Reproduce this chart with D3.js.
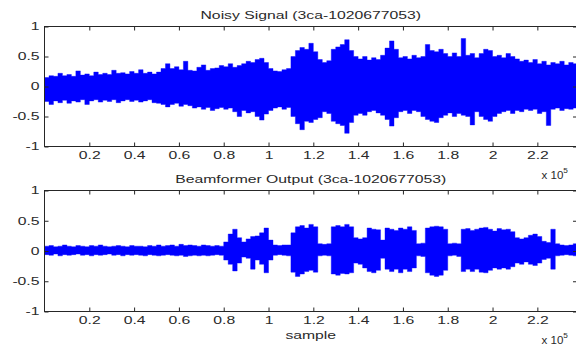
<!DOCTYPE html>
<html lang="en">
<head>
<meta charset="utf-8">
<title>Noisy Signal / Beamformer Output</title>
<script src="https://d3js.org/d3.v7.min.js"></script>
<style>
  body { margin: 0; background: #fff; }
  svg { display: block; font-family: "Liberation Sans", Arial, Helvetica, sans-serif; }
</style>
</head>
<body>
<script>
var w = 576, h = 347;

// signal length and envelope bin size (samples)
var nSamples = 237700;
var binSize = 2000;

// axis ticks
var xTicks = [20000, 40000, 60000, 80000, 100000, 120000, 140000, 160000, 180000, 200000, 220000];
var xTickLabels = ["0.2", "0.4", "0.6", "0.8", "1", "1.2", "1.4", "1.6", "1.8", "2", "2.2"];
var yTicks = [-1, -0.5, 0, 0.5, 1];
var yTickLabels = ["-1", "-0.5", "0", "0.5", "1"];

var titles = ["Noisy Signal (3ca-1020677053)", "Beamformer Output (3ca-1020677053)"];
var xLabel = "sample";

// envelope (max / min per bin)
var noisyUpper = [0.15, 0.18, 0.17, 0.22, 0.18, 0.2, 0.17, 0.26,
  0.19, 0.21, 0.18, 0.24, 0.2, 0.22, 0.2,
  0.27, 0.22, 0.23, 0.21, 0.25, 0.22, 0.28, 0.22, 0.24, 0.21, 0.24,
  0.3, 0.38, 0.3, 0.33, 0.28, 0.42,
  0.27, 0.26, 0.32, 0.36, 0.27, 0.3, 0.31, 0.35, 0.33, 0.38, 0.32, 0.35, 0.38, 0.42, 0.4, 0.45, 0.47, 0.4,
  0.3, 0.26, 0.25, 0.28, 0.3, 0.5, 0.6, 0.65, 0.62, 0.72,
  0.58, 0.45, 0.4, 0.43, 0.62, 0.66, 0.7, 0.78, 0.6, 0.5,
  0.46, 0.5, 0.44, 0.48, 0.45, 0.52, 0.64, 0.76, 0.62, 0.48,
  0.5, 0.46, 0.52, 0.48, 0.5, 0.7, 0.6, 0.58, 0.62, 0.55,
  0.5, 0.56, 0.5, 0.8, 0.52, 0.55, 0.48, 0.55, 0.62, 0.6,
  0.5, 0.52, 0.48, 0.55, 0.5, 0.46, 0.42, 0.44, 0.4, 0.45,
  0.38, 0.42, 0.36, 0.4, 0.38, 0.42, 0.36, 0.4, 0.38];
var noisyLower = [-0.25, -0.3, -0.24, -0.27, -0.23, -0.28, -0.24, -0.26,
  -0.22, -0.3, -0.24, -0.22, -0.26, -0.23, -0.25,
  -0.22, -0.27, -0.24, -0.22, -0.25, -0.23, -0.26, -0.24, -0.22, -0.27, -0.28,
  -0.3, -0.34, -0.3, -0.28, -0.33, -0.3,
  -0.32, -0.36, -0.34, -0.38, -0.35, -0.4, -0.37, -0.35, -0.38, -0.36, -0.42, -0.5, -0.4, -0.44, -0.42, -0.5, -0.56, -0.46,
  -0.4, -0.36, -0.34, -0.38, -0.35, -0.5, -0.62, -0.72, -0.58, -0.6,
  -0.55, -0.52, -0.42, -0.45, -0.58, -0.62, -0.65, -0.78, -0.6, -0.48,
  -0.45, -0.48, -0.42, -0.4, -0.44, -0.48, -0.55, -0.66, -0.52, -0.42,
  -0.4, -0.45, -0.4, -0.42, -0.5, -0.55, -0.58, -0.6, -0.52, -0.48,
  -0.44, -0.5, -0.45, -0.48, -0.5, -0.64, -0.42, -0.5, -0.55, -0.58,
  -0.5, -0.45, -0.42, -0.4, -0.45, -0.4, -0.42, -0.38, -0.4, -0.38,
  -0.45, -0.42, -0.65, -0.38, -0.36, -0.4, -0.37, -0.38, -0.36];

var beamUpper = [0.08, 0.09, 0.07, 0.08, 0.1, 0.08, 0.07, 0.09, 0.08, 0.07,
  0.09, 0.08, 0.1, 0.08, 0.07, 0.08, 0.09, 0.08, 0.07, 0.09,
  0.08, 0.08, 0.07, 0.09, 0.08, 0.1, 0.08, 0.09, 0.1, 0.08,
  0.11, 0.09, 0.1, 0.09, 0.08, 0.1, 0.09, 0.08, 0.09, 0.08,
  0.15, 0.28, 0.36, 0.22, 0.15, 0.2, 0.24, 0.25, 0.3, 0.38,
  0.18, 0.1, 0.09, 0.1, 0.1, 0.3, 0.4, 0.42, 0.38, 0.44,
  0.4, 0.12, 0.11, 0.12, 0.4, 0.42, 0.4, 0.44, 0.4, 0.22,
  0.2, 0.22, 0.38, 0.36, 0.35, 0.18, 0.38, 0.36, 0.34, 0.38,
  0.36, 0.4, 0.34, 0.12, 0.13, 0.38, 0.4, 0.41, 0.4, 0.36,
  0.12, 0.13, 0.12, 0.36, 0.37, 0.34, 0.36, 0.38, 0.39, 0.36,
  0.33, 0.37, 0.35, 0.36, 0.32, 0.22, 0.2, 0.22, 0.26, 0.28,
  0.24, 0.16, 0.14, 0.36, 0.12, 0.1, 0.09, 0.1, 0.12];
var beamLower = [-0.06, -0.07, -0.05, -0.08, -0.06, -0.07, -0.06, -0.05, -0.07, -0.06,
  -0.08, -0.06, -0.07, -0.06, -0.05, -0.07, -0.06, -0.08, -0.06, -0.07,
  -0.06, -0.07, -0.08, -0.06, -0.07, -0.08, -0.07, -0.06, -0.07, -0.08,
  -0.07, -0.09, -0.08, -0.07, -0.08, -0.07, -0.08, -0.07, -0.06, -0.07,
  -0.15, -0.22, -0.33, -0.2, -0.1, -0.12, -0.3, -0.15, -0.22, -0.36,
  -0.15, -0.07, -0.06, -0.07, -0.08, -0.35, -0.42, -0.38, -0.34, -0.32,
  -0.35, -0.08, -0.07, -0.08, -0.38, -0.4, -0.37, -0.38, -0.36, -0.2,
  -0.22, -0.28, -0.34, -0.36, -0.32, -0.12, -0.3, -0.34, -0.3, -0.36,
  -0.3, -0.34, -0.28, -0.08, -0.09, -0.36, -0.4, -0.42, -0.4, -0.32,
  -0.08, -0.07, -0.09, -0.34, -0.3, -0.34, -0.3, -0.35, -0.36, -0.32,
  -0.28, -0.3, -0.28, -0.3, -0.26, -0.2, -0.22, -0.18, -0.22, -0.24,
  -0.2, -0.14, -0.12, -0.3, -0.08, -0.07, -0.06, -0.07, -0.08];

// layout
var fontSize = 10.5, stretch = 1.5, axisColor = "#262626", textColor = "#2a2a2a";
var left = 44.5, right = 577;
var panels = [
  { top: 26.5, bottom: 146.5, title: titles[0], upper: noisyUpper, lower: noisyLower },
  { top: 190.5, bottom: 311.5, title: titles[1], upper: beamUpper, lower: beamLower }
];

var svg = d3.select("body").append("svg")
  .attr("width", w)
  .attr("height", h);

svg.append("rect").attr("width", w).attr("height", h).attr("fill", "#fff");

var x = d3.scaleLinear().domain([0, nSamples]).range([left, right]);

// stretched text like the original bitmap font
function label(g, str, tx, ty, anchor) {
  return g.append("text")
    .attr("transform", "translate(" + tx + "," + ty + ") scale(" + stretch + ",1)")
    .attr("text-anchor", anchor)
    .attr("font-size", fontSize)
    .attr("fill", textColor)
    .text(str);
}

function styleAxis(ga) {
  ga.attr("font-family", null).attr("font-size", fontSize);
  ga.select(".domain").remove();
  ga.selectAll(".tick line").attr("stroke", axisColor);
  ga.selectAll(".tick text").attr("fill", textColor);
}

panels.forEach(function(p, k) {
  var g = svg.append("g");
  var y = d3.scaleLinear().domain([-1, 1]).range([p.bottom, p.top]);

  var rows = p.upper.map(function(v, i) {
    return { s: i * binSize, hi: v, lo: p.lower[i] };
  });
  rows.push({ s: nSamples, hi: p.upper[p.upper.length - 1], lo: p.lower[p.lower.length - 1] });

  g.append("clipPath").attr("id", "clip" + k)
    .append("rect")
    .attr("x", left).attr("y", p.top)
    .attr("width", right - left).attr("height", p.bottom - p.top);

  var area = d3.area()
    .x(function(d) { return x(d.s); })
    .y0(function(d) { return y(d.lo); })
    .y1(function(d) { return y(d.hi); })
    .curve(d3.curveStepAfter);

  g.append("path")
    .datum(rows)
    .attr("clip-path", "url(#clip" + k + ")")
    .attr("d", area)
    .attr("fill", "#0000ff")
    .attr("stroke", "#0000ff")
    .attr("stroke-width", 0.4);

  // bottom axis with labels
  var gx = g.append("g")
    .attr("transform", "translate(0," + p.bottom + ")")
    .call(d3.axisBottom(x).tickValues(xTicks)
      .tickFormat(function(d, i) { return xTickLabels[i]; })
      .tickSize(-4).tickPadding(5.5));
  styleAxis(gx);
  gx.selectAll(".tick text").attr("transform", "scale(" + stretch + ",1)");

  // left axis with labels
  var gy = g.append("g")
    .attr("transform", "translate(" + left + ",0)")
    .call(d3.axisLeft(y).tickValues(yTicks)
      .tickFormat(function(d, i) { return yTickLabels[i]; })
      .tickSize(-4).tickPadding(5));
  styleAxis(gy);
  gy.selectAll(".tick text")
    .attr("x", -5 / stretch)
    .attr("transform", "scale(" + stretch + ",1)");

  // top and right ticks
  var gt = g.append("g")
    .attr("transform", "translate(0," + p.top + ")")
    .call(d3.axisTop(x).tickValues(xTicks).tickFormat("").tickSize(-4));
  styleAxis(gt);
  var gr = g.append("g")
    .attr("transform", "translate(" + right + ",0)")
    .call(d3.axisRight(y).tickValues(yTicks).tickFormat("").tickSize(-4));
  styleAxis(gr);

  // box
  g.append("rect")
    .attr("x", left).attr("y", p.top)
    .attr("width", right - left).attr("height", p.bottom - p.top)
    .attr("fill", "none")
    .attr("stroke", axisColor);

  label(g, p.title, (left + right) / 2, p.top - 8, "middle");

  // exponent label
  var ex = g.append("text")
    .attr("transform", "translate(541.5," + (p.bottom + 32.5) + ") scale(1.1,1)")
    .attr("font-size", fontSize)
    .attr("fill", textColor)
    .text("x 10");
  ex.append("tspan")
    .attr("dy", -6.5)
    .attr("font-size", 7.5)
    .text("5");
});

label(svg, xLabel, (left + right) / 2, 338.5, "middle");
</script>
</body>
</html>
